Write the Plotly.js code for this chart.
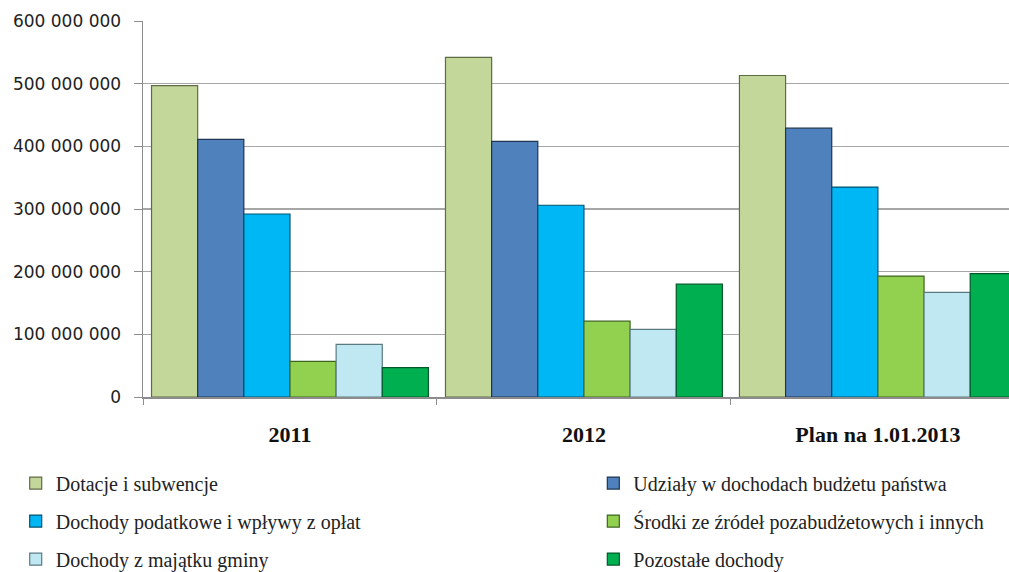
<!DOCTYPE html>
<html>
<head>
<meta charset="utf-8">
<script src="https://cdn.plot.ly/plotly-3.0.1.min.js"></script>
<style>
html,body{margin:0;padding:0;overflow:hidden;background:#fff;}
#chart{width:1009px;height:572px;}
</style>
</head>
<body>
<div id="chart"></div>
<script>
const categories = ["2011", "2012", "Plan na 1.01.2013"];
const seriesNames = [
  "Dotacje i subwencje",
  "Udziały w dochodach budżetu państwa",
  "Dochody podatkowe i wpływy z opłat",
  "Środki ze źródeł pozabudżetowych i innych",
  "Dochody z majątku gminy",
  "Pozostałe dochody"
];
const dotacje    = [497000000, 542000000, 513000000];
const udzialy    = [411000000, 408000000, 429000000];
const podatkowe  = [292000000, 306000000, 335000000];
const srodki     = [57000000, 121000000, 193000000];
const majatek    = [84000000, 108000000, 167000000];
const pozostale  = [47000000, 180000000, 197000000];
const yTickVals  = [0, 100000000, 200000000, 300000000, 400000000, 500000000, 600000000];
const yTickText  = ["0", "100 000 000", "200 000 000", "300 000 000", "400 000 000", "500 000 000", "600 000 000"];

const seriesValues = [dotacje, udzialy, podatkowe, srodki, majatek, pozostale];
const fills = ["#c4d79b", "#4f81bd", "#00b7f5", "#92d050", "#c0e8f2", "#00b050"];
const edges = ["#5f6b45", "#1f3550", "#00506e", "#3f6420", "#5a7a82", "#005a28"];
const legendOf = ["legend", "legend2", "legend", "legend2", "legend", "legend2"];

const traces = seriesValues.map((vals, i) => ({
  type: "bar",
  name: seriesNames[i],
  x: categories,
  y: vals,
  marker: {color: fills[i], line: {color: edges[i], width: 1.2}},
  legend: legendOf[i],
  legendgroup: "g" + i,
  hoverinfo: "skip"
}));

const legendFont = {family: "Liberation Serif, serif", size: 20, color: "#222"};
const layout = {
  width: 1009,
  height: 572,
  margin: {l: 143, r: 0, t: 21, b: 175, autoexpand: false},
  paper_bgcolor: "#ffffff",
  plot_bgcolor: "#ffffff",
  barmode: "group",
  bargap: 0.058,
  bargroupgap: 0,
  showlegend: true,
  xaxis: {
    type: "category",
    categoryorder: "array",
    categoryarray: categories,
    range: [-0.5, 2.446],
    showline: true,
    linecolor: "#8c8c8c",
    linewidth: 1.5,
    ticks: "outside",
    tickson: "boundaries",
    ticklen: 6,
    tickcolor: "#8c8c8c",
    ticklabelstandoff: 17,
    tickfont: {family: "Liberation Serif, serif", size: 22, color: "#111", weight: "bold"},
    showgrid: false,
    zeroline: false,
    fixedrange: true
  },
  yaxis: {
    range: [0, 600000000],
    tickvals: yTickVals,
    ticktext: yTickText,
    showline: true,
    linecolor: "#8c8c8c",
    linewidth: 1.5,
    ticks: "outside",
    ticklen: 8,
    tickcolor: "#8c8c8c",
    ticklabelstandoff: 9,
    showgrid: true,
    gridcolor: "#a6a6a6",
    gridwidth: 1.5,
    zeroline: false,
    tickfont: {family: "DejaVu Sans, sans-serif", size: 17, color: "#222"},
    fixedrange: true
  },
  legend: {
    orientation: "v",
    x: -0.147, xanchor: "left",
    y: -0.177, yanchor: "top",
    font: legendFont,
    tracegroupgap: 9,
    itemwidth: 30,
    bgcolor: "rgba(0,0,0,0)"
  },
  legend2: {
    orientation: "v",
    x: 0.52, xanchor: "left",
    y: -0.177, yanchor: "top",
    font: legendFont,
    tracegroupgap: 9,
    itemwidth: 30,
    bgcolor: "rgba(0,0,0,0)"
  }
};

Plotly.newPlot("chart", traces, layout, {displayModeBar: false, staticPlot: true});
</script>
</body>
</html>
